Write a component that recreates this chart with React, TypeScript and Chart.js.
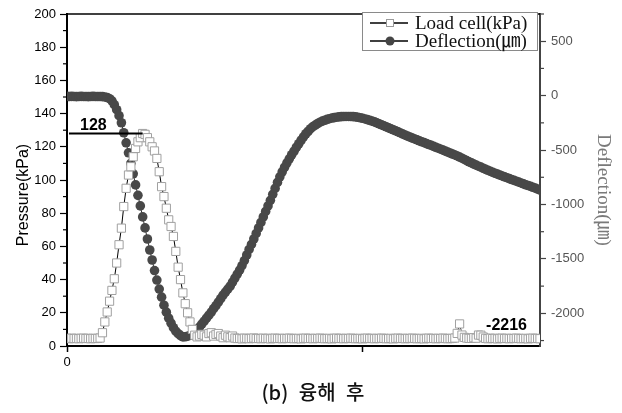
import React, { useEffect, useRef } from 'react';
import { Chart, registerables } from 'chart.js';

Chart.register(...registerables);

// Deflection (㎛), one value per sample
const deflection = [
  -6, -8, -7, -8, -9, -8, -7, -8, -8, -9, -8, -7, -8, -8, -8,
  -9, -12, -17, -28, -48, -83, -129, -184, -249, -341,
  -433, -525, -622, -718, -820, -916, -1013, -1114, -1215, -1317,
  -1418, -1510, -1607, -1694, -1777, -1851, -1925, -1989, -2044, -2090,
  -2132, -2164, -2187, -2205, -2216, -2215, -2210, -2203, -2192, -2173,
  -2150, -2127, -2099, -2072, -2044, -2017, -1989, -1957, -1929, -1897,
  -1865, -1832, -1805, -1777, -1750, -1713, -1676, -1639, -1602, -1561,
  -1515, -1464, -1413, -1367, -1317, -1266, -1215, -1165, -1114, -1064,
  -1013, -962, -907, -852, -797, -746, -700, -658, -617, -580,
  -543, -511, -474, -442, -410, -378, -350, -327, -304, -285,
  -270, -256, -244, -234, -226, -218, -212, -206, -202, -198,
  -195, -193, -192, -191, -191, -192, -193, -195, -199, -203,
  -208, -214, -220, -227, -234, -241, -250, -259, -268, -277,
  -286, -296, -305, -314, -323, -333, -343, -353, -363, -372,
  -380, -389, -398, -406, -415, -424, -432, -441, -449, -457,
  -466, -475, -483, -492, -501, -510, -518, -527, -536, -545,
  -554, -564, -575, -586, -597, -608, -618, -629, -638, -648,
  -657, -667, -677, -686, -695, -704, -713, -721, -729, -738,
  -746, -754, -762, -771, -778, -786, -794, -802, -810, -819,
  -826, -834, -842, -850, -858, -867,
];

// Load cell (kPa), one value per sample
const loadCell = [
  4.6, 4.4, 4.7, 4.5, 4.6, 4.4, 4.6, 4.7, 4.5, 4.6, 4.4, 4.6, 4.5, 4.6,
  4.8, 8, 14.5, 20.5, 27, 33.5, 40.5, 50, 61, 71, 84, 95, 103, 108, 114, 119,
  123, 125.5, 128, 127.5, 125.5, 123, 120, 117.5, 113, 105, 96, 90, 83, 76, 72,
  66, 57, 47.5, 40, 32, 25.5, 20, 14.5, 10, 6.5, 5.5, 6, 7, 6.5, 5.5,
  7.5, 8, 6, 7, 7.5, 6, 5, 6.5, 5.5, 5, 6,
  4.8, 4.5, 4.6, 4.3, 4.7, 4.6, 4.4, 4.6, 4.8, 4.5,
  4.6, 4.4, 4.7, 4.5, 4.6, 4.3, 4.6, 4.7, 4.5, 4.6,
  4.4, 4.6, 4.5, 4.7, 4.6, 4.4, 4.5, 4.6, 4.3, 4.6,
  4.7, 4.5, 4.6, 4.4, 4.6, 4.5, 4.7, 4.6, 4.4, 4.5,
  4.6, 4.3, 4.6, 4.7, 4.5, 4.6, 4.4, 4.6, 4.5, 4.7,
  4.6, 4.4, 4.5, 4.6, 4.3, 4.6, 4.7, 4.5, 4.6, 4.4,
  4.6, 4.5, 4.7, 4.6, 4.4, 4.5, 4.6, 4.3, 4.6, 4.7,
  4.5, 4.6, 4.4, 4.6, 4.5, 4.7, 4.6, 4.4, 4.5, 4.6,
  4.3, 4.6, 4.7, 4.5, 4.6, 4.4, 4.6, 4.5, 4.7, 4.6,
  4.4, 4.5, 4.6, 4.8,
  7.6, 13.3, 6.6, 5.2, 4.8, 4.6, 4.6, 5, 4.7, 6.6, 6.5, 5.4,
  4.6, 4.4, 4.7, 4.5, 4.6, 4.3, 4.6, 4.7, 4.5, 4.6, 4.4, 4.6,
  4.5, 4.7, 4.6, 4.4, 4.5, 4.6, 4.3, 4.6, 4.7, 4.5, 4.6, 4.4,
];

const sampleIndex = deflection.map((_, i) => i);
const xTickValues = [0, 125];
const xTickLabels = ['0', ''];
const leftTickValues = [0, 20, 40, 60, 80, 100, 120, 140, 160, 180, 200];
const rightTickValues = [-2000, -1500, -1000, -500, 0, 500];
const seriesNames = ['Load cell(kPa)', 'Deflection(㎛)'];
const leftTitle = 'Pressure(kPa)';
const rightTitle = 'Deflection(㎛)';
const captionText = '(b) 융해 후';

const SANS = '"Liberation Sans", Arial, sans-serif';
const SERIF = '"Liberation Serif", "Noto Sans CJK KR", serif';

const decorPlugin = {
  id: 'decor',
  afterDraw(chart: any) {
    const { ctx, chartArea } = chart;
    const xs = chart.scales.x;
    const ys = chart.scales.y;
    const y1 = chart.scales.y1;
    ctx.save();

    // top frame
    ctx.strokeStyle = '#000';
    ctx.lineWidth = 1.5;
    ctx.beginPath();
    ctx.moveTo(chartArea.left, chartArea.top);
    ctx.lineTo(chartArea.right, chartArea.top);
    ctx.stroke();

    // minor ticks
    ctx.lineWidth = 1.2;
    ctx.strokeStyle = '#000';
    for (let k = 0; k < leftTickValues.length - 1; k++) {
      const p = ys.getPixelForValue((leftTickValues[k] + leftTickValues[k + 1]) / 2);
      ctx.beginPath();
      ctx.moveTo(chartArea.left - 4, p);
      ctx.lineTo(chartArea.left, p);
      ctx.stroke();
    }
    ctx.strokeStyle = '#444';
    const rightMinor = [rightTickValues[0] - 250, ...rightTickValues.map((v) => v + 250)];
    rightMinor.forEach((v) => {
      const p = y1.getPixelForValue(v);
      ctx.beginPath();
      ctx.moveTo(chartArea.right, p);
      ctx.lineTo(chartArea.right + 4, p);
      ctx.stroke();
    });

    // peak annotation
    let maxI = 0;
    loadCell.forEach((v, i) => { if (v > loadCell[maxI]) maxI = i; });
    const peak = loadCell[maxI];
    const py = ys.getPixelForValue(peak);
    const px = xs.getPixelForValue(sampleIndex[maxI]);
    ctx.strokeStyle = '#000';
    ctx.lineWidth = 2;
    ctx.beginPath();
    ctx.moveTo(chartArea.left + 2, py);
    ctx.lineTo(px, py);
    ctx.stroke();
    ctx.fillStyle = '#000';
    ctx.font = 'bold 16px ' + SANS;
    ctx.textAlign = 'left';
    ctx.textBaseline = 'alphabetic';
    ctx.fillText(String(Math.round(peak)), chartArea.left + 13, py - 4);

    // minimum deflection annotation
    const minD = Math.min(...deflection);
    const my = y1.getPixelForValue(minD);
    ctx.textAlign = 'right';
    ctx.fillText(String(minD), chartArea.right - 13, my - 7);

    // legend
    const lx = chartArea.right - 178;
    const ly = chartArea.top - 2;
    ctx.fillStyle = '#fff';
    ctx.fillRect(lx, ly, 175, 38);
    ctx.strokeStyle = '#8a8a8a';
    ctx.lineWidth = 1;
    ctx.strokeRect(lx + 0.5, ly + 0.5, 175, 38);
    const rows = [ly + 11, ly + 29];
    rows.forEach((ry, k) => {
      ctx.strokeStyle = '#000';
      ctx.lineWidth = 1.5;
      ctx.beginPath();
      ctx.moveTo(lx + 8, ry);
      ctx.lineTo(lx + 46, ry);
      ctx.stroke();
      if (k === 0) {
        ctx.fillStyle = '#fff';
        ctx.fillRect(lx + 24, ry - 3.5, 7, 7);
        ctx.strokeStyle = '#9a9a9a';
        ctx.lineWidth = 1;
        ctx.strokeRect(lx + 24.5, ry - 3.5, 7, 7);
      } else {
        ctx.fillStyle = '#454545';
        ctx.beginPath();
        ctx.arc(lx + 28, ry, 4.5, 0, Math.PI * 2);
        ctx.fill();
      }
      ctx.fillStyle = '#111';
      ctx.font = '19px ' + SERIF;
      ctx.textAlign = 'left';
      ctx.textBaseline = 'middle';
      ctx.fillText(seriesNames[k], lx + 53, ry + 1);
    });

    // axis titles
    ctx.save();
    ctx.translate(24, 195);
    ctx.rotate(-Math.PI / 2);
    ctx.fillStyle = '#000';
    ctx.font = '16px ' + SANS;
    ctx.textAlign = 'center';
    ctx.textBaseline = 'middle';
    ctx.fillText(leftTitle, 0, 0);
    ctx.restore();

    ctx.save();
    ctx.translate(603, 190);
    ctx.rotate(Math.PI / 2);
    ctx.fillStyle = '#7a7a7a';
    ctx.font = '19px ' + SERIF;
    ctx.textAlign = 'center';
    ctx.textBaseline = 'middle';
    ctx.fillText(rightTitle, 0, 0);
    ctx.restore();

    // caption
    ctx.fillStyle = '#111';
    ctx.font = '500 20px "Noto Sans CJK KR", sans-serif';
    ctx.textAlign = 'center';
    ctx.textBaseline = 'middle';
    (ctx as any).wordSpacing = '6px';
    ctx.fillText(captionText, 313, 392);

    ctx.restore();
  },
};

export default function App() {
  const ref = useRef<HTMLCanvasElement | null>(null);

  useEffect(() => {
    if (!ref.current) return;
    const chart = new Chart(ref.current, {
      type: 'line',
      data: {
        datasets: [
          {
            label: seriesNames[0],
            data: loadCell.map((v, i) => ({ x: sampleIndex[i], y: v })),
            yAxisID: 'y',
            borderColor: '#000',
            borderWidth: 1,
            pointStyle: 'rect',
            pointRadius: 5.8,
            pointBackgroundColor: '#fff',
            pointBorderColor: '#a0a0a0',
            pointBorderWidth: 1,
            tension: 0,
            order: 0,
          },
          {
            label: seriesNames[1],
            data: deflection.map((v, i) => ({ x: sampleIndex[i], y: v })),
            yAxisID: 'y1',
            borderColor: '#333',
            borderWidth: 1,
            pointStyle: 'circle',
            pointRadius: 4.8,
            pointBackgroundColor: '#484848',
            pointBorderColor: '#484848',
            pointBorderWidth: 0,
            tension: 0,
            order: 1,
          },
        ],
      },
      options: {
        animation: false,
        responsive: false,
        devicePixelRatio: 1,
        layout: { padding: { top: 14, left: 0, right: 0, bottom: 0 } },
        plugins: {
          legend: { display: false },
          tooltip: { enabled: false },
          title: { display: false },
        },
        scales: {
          x: {
            type: 'linear',
            min: 0,
            max: 200,
            afterFit: (s: any) => { s.height = 67; },
            afterBuildTicks: (s: any) => { s.ticks = xTickValues.map((v) => ({ value: v })); },
            ticks: {
              maxRotation: 0,
              autoSkip: false,
              padding: 3,
              color: '#000',
              font: { family: SANS, size: 13 },
              callback: (v: any) => xTickLabels[xTickValues.indexOf(v)] ?? '',
            },
            grid: {
              display: true,
              drawOnChartArea: false,
              drawTicks: true,
              tickLength: 6,
              tickColor: '#000',
              tickWidth: 1.5,
            },
            border: { display: true, color: '#000', width: 2 },
          },
          y: {
            position: 'left',
            min: 0,
            max: 200,
            afterFit: (s: any) => { s.width = 67; },
            afterBuildTicks: (s: any) => { s.ticks = leftTickValues.map((v) => ({ value: v })); },
            ticks: {
              padding: 4,
              color: '#000',
              font: { family: SANS, size: 13 },
            },
            grid: {
              display: true,
              drawOnChartArea: false,
              drawTicks: true,
              tickLength: 7,
              tickColor: '#000',
              tickWidth: 1.2,
            },
            border: { display: true, color: '#000', width: 2 },
          },
          y1: {
            position: 'right',
            min: -2300,
            max: 750,
            afterFit: (s: any) => { s.width = 82; },
            afterBuildTicks: (s: any) => { s.ticks = rightTickValues.map((v) => ({ value: v })); },
            ticks: {
              padding: 5,
              color: '#555',
              font: { family: SANS, size: 13 },
              callback: (v: any) => String(v),
            },
            grid: {
              display: true,
              drawOnChartArea: false,
              drawTicks: true,
              tickLength: 6,
              tickColor: '#444',
              tickWidth: 1.2,
            },
            border: { display: true, color: '#444', width: 2 },
          },
        },
      } as any,
      plugins: [decorPlugin],
    });
    return () => chart.destroy();
  }, []);

  return (
    <div style={{ position: 'fixed', left: 0, top: 0, width: 622, height: 413, background: '#fff' }}>
      <canvas ref={ref} width={622} height={413} style={{ width: 622, height: 413, display: 'block' }} />
    </div>
  );
}
